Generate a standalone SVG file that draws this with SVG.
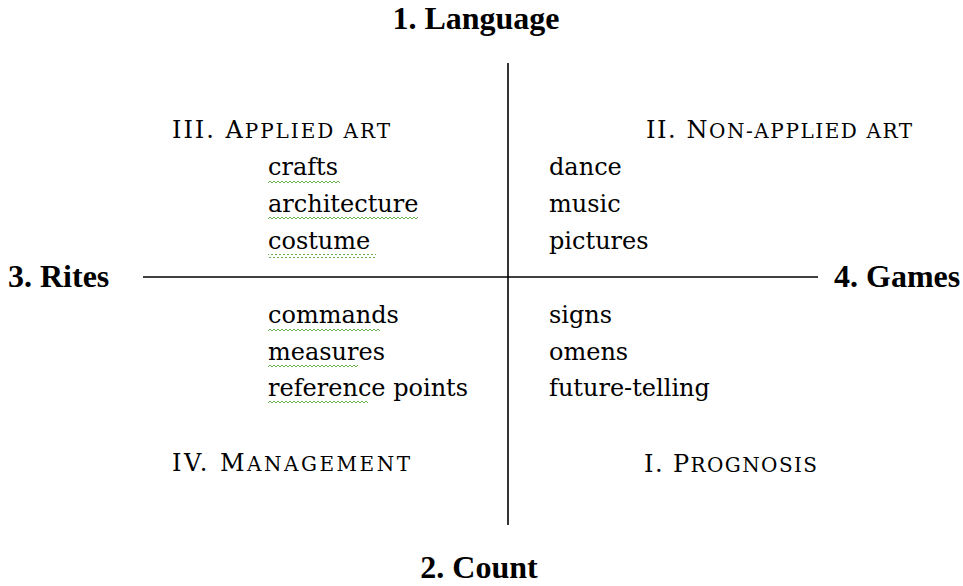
<svg xmlns="http://www.w3.org/2000/svg" width="963" height="586" viewBox="0 0 963 586">
<style>
.t{font-family:"Liberation Serif","Times New Roman",serif;font-weight:bold;font-size:32px;fill:#000}
.b{font-family:"DejaVu Serif","Liberation Serif",serif;font-size:24px;fill:#000}
.sc{font-size:20px}
.ax{stroke:#000;stroke-width:1.6;fill:none}
.sq{fill:url(#wave)}
</style>
<defs>
<pattern id="wave" width="4" height="4" patternUnits="userSpaceOnUse">
<path d="M0 3 L2 1 L4 3" fill="none" stroke="#6ab04c" stroke-width="1"/>
</pattern>
</defs>
<rect width="963" height="586" fill="#fff"/>
<g id="connectors">
<line class="ax" x1="508" y1="63" x2="508" y2="525"/>
<line class="ax" x1="143" y1="277" x2="818" y2="277"/>
</g>
<g id="language"><text class="t" x="476" y="29" text-anchor="middle">1. Language</text></g>
<g id="count"><text class="t" x="479" y="578" text-anchor="middle">2. Count</text></g>
<g id="rites"><text class="t" x="8" y="287">3. Rites</text></g>
<g id="games"><text class="t" x="834" y="287">4. Games</text></g>
<g id="applied-art">
<text class="b" x="172" y="138" textLength="218" lengthAdjust="spacing">III. A<tspan class="sc">PPLIED ART</tspan></text>
<text class="b" x="268" y="175">crafts</text>
<text class="b" x="268" y="212">architecture</text>
<text class="b" x="268" y="249">costume</text>
<rect class="sq" x="268" y="180" width="72" height="4"/>
<rect class="sq" x="268" y="217" width="150" height="4"/>
<rect class="sq" x="268" y="254" width="108" height="4"/>
</g>
<g id="non-applied-art">
<text class="b" x="646" y="138" textLength="266" lengthAdjust="spacing">II. N<tspan class="sc">ON-APPLIED ART</tspan></text>
<text class="b" x="549" y="175">dance</text>
<text class="b" x="549" y="212">music</text>
<text class="b" x="549" y="249">pictures</text>
</g>
<g id="management">
<text class="b" x="172" y="471" textLength="238" lengthAdjust="spacing">IV. M<tspan class="sc">ANAGEMENT</tspan></text>
<text class="b" x="268" y="323">commands</text>
<text class="b" x="268" y="360">measures</text>
<text class="b" x="268" y="396">reference points</text>
<rect class="sq" x="268" y="328" width="112" height="4"/>
<rect class="sq" x="268" y="365" width="90" height="4"/>
<rect class="sq" x="268" y="401" width="100" height="4"/>
</g>
<g id="prognosis">
<text class="b" x="644" y="472" textLength="173" lengthAdjust="spacing">I. P<tspan class="sc">ROGNOSIS</tspan></text>
<text class="b" x="549" y="323">signs</text>
<text class="b" x="549" y="360">omens</text>
<text class="b" x="549" y="396">future-telling</text>
</g>
</svg>
